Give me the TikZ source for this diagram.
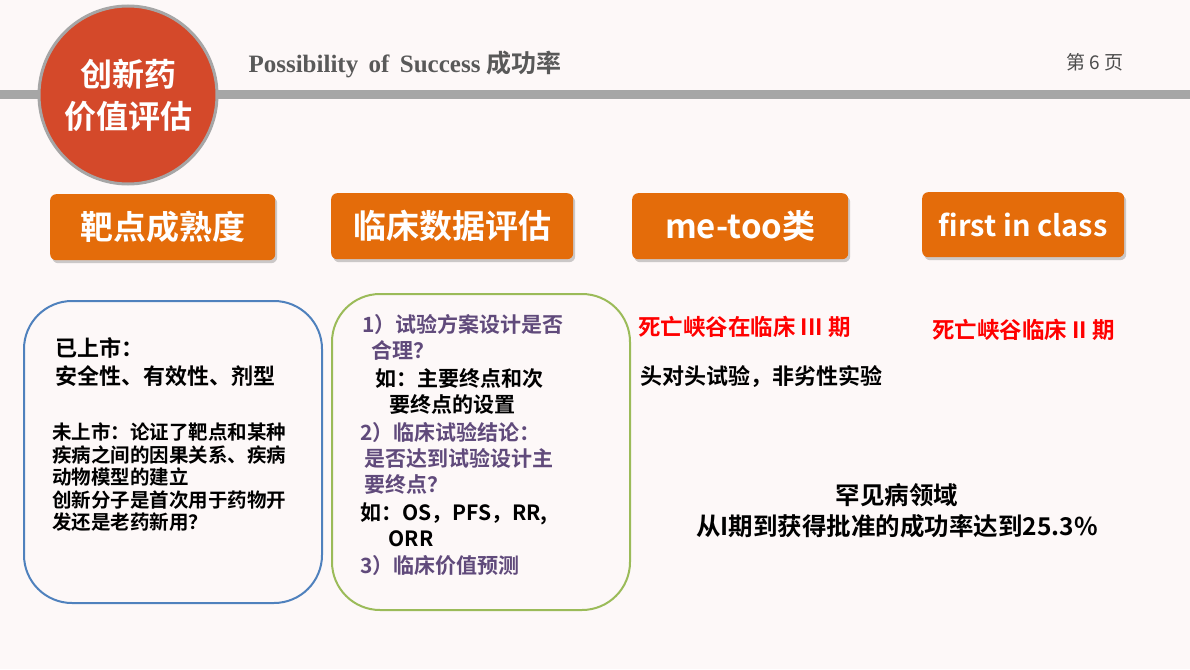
\documentclass[tikz,border=0pt]{standalone}
\usepackage{fontspec}
\setmainfont{Liberation Serif}
\newfontfamily\cjk{Noto Sans CJK SC}[BoldFont={Noto Sans CJK SC Bold}]
\usetikzlibrary{shadows}
\definecolor{bg}{HTML}{FDF8F8}
\definecolor{org}{HTML}{E46C0A}
\definecolor{crc}{HTML}{D4492A}
\definecolor{txtpurple}{HTML}{604A7B}
\definecolor{bl}{HTML}{4F81BD}
\definecolor{gr}{HTML}{9BBB59}
\tikzset{
 hbox/.style={fill=org,rounded corners=6pt,text=white,anchor=north west,inner sep=0pt,drop shadow={shadow xshift=2pt,shadow yshift=-3pt,opacity=0.4}},
 htxt/.style={text=white,font=\cjk\bfseries\fontsize{33}{36}\selectfont},
 body/.style={font=\cjk\bfseries\fontsize{21}{26}\selectfont,anchor=north west,align=left,inner sep=0pt},
 red/.style={body,text=red,font=\cjk\bfseries\fontsize{22.5}{26}\selectfont}
}
\begin{document}
\begin{tikzpicture}[x=1pt,y=-1pt]
\fill[bg] (0,0) rectangle (1190,669);
\useasboundingbox (0,0) rectangle (1190,669);
\fill[black!35] (0,90) rectangle (1190,99);
\node[circle,draw=black!35,line width=3pt,fill=crc,minimum size=178pt,inner sep=0pt,text=white,align=center,font=\cjk\bfseries\fontsize{32}{42}\selectfont] (c) at (128,95) {创新药\\价值评估};
\node[anchor=west,text=black!65,font=\bfseries\fontsize{25}{28}\selectfont] (t) at (245,64) {Possibility\, of\, Success {\cjk 成功率}};
\node[anchor=west,text=black!70,font=\cjk\fontsize{19}{22}\selectfont] (p) at (1063,62) {第 6 页};
\node[hbox,minimum width=225pt,minimum height=66pt] (b1) at (50,194) {};
\node[htxt] (b1t) at (b1.center) {靶点成熟度};
\node[hbox,minimum width=242pt,minimum height=66pt] (b2) at (331,193) {};
\node[htxt] (b2t) at (b2.center) {临床数据评估};
\node[hbox,minimum width=216pt,minimum height=66pt] (b3) at (632,193) {};
\node[htxt] (b3t) at (b3.center) {me-too类};
\node[hbox,minimum width=202pt,minimum height=65pt] (b4) at (922,192) {};
\node[htxt,font=\cjk\bfseries\fontsize{29}{34}\selectfont] (b4t) at (b4.center) {first in class};
\draw[line width=2pt,draw=bl,rounded corners=48pt] (24,301) rectangle (322,603);
\draw[line width=2pt,draw=gr,rounded corners=48pt] (332,294) rectangle (630,610);
\node[body,font=\cjk\bfseries\fontsize{22}{28}\selectfont] (l1) at (55,337) {已上市：\\安全性、有效性、剂型};
\node[body,font=\cjk\bfseries\fontsize{19.5}{22.5}\selectfont] (l2) at (52,423) {未上市：论证了靶点和某种\\疾病之间的因果关系、疾病\\动物模型的建立\\创新分子是首次用于药物开\\发还是老药新用？};
\node[body,text=txtpurple] (m1) at (362,314) {1）试验方案设计是否\\\ \ 合理？};
\node[body] (m2) at (375,368) {如：主要终点和次\\\ \ \ 要终点的设置};
\node[body,text=txtpurple] (m3) at (360,422) {2）临床试验结论：\\\ 是否达到试验设计主\\\ 要终点？};
\node[body] (m4) at (360,503) {如：OS，PFS，RR,\\\ \ \ \ \ \ ORR};
\node[body,text=txtpurple] (m5) at (360,555) {3）临床价值预测};
\node[red] (r1) at (638,316) {死亡峡谷在临床 III 期};
\node[red] (r3) at (932,319) {死亡峡谷临床 II 期};
\node[body,font=\cjk\bfseries\fontsize{22}{26}\selectfont] (r2) at (640,365) {头对头试验，非劣性实验};
\node[body,align=center,anchor=center,font=\cjk\bfseries\fontsize{24.5}{31}\selectfont] (r4) at (897,511) {罕见病领域\\从I期到获得批准的成功率达到25.3\%};
\end{tikzpicture}
\end{document}
